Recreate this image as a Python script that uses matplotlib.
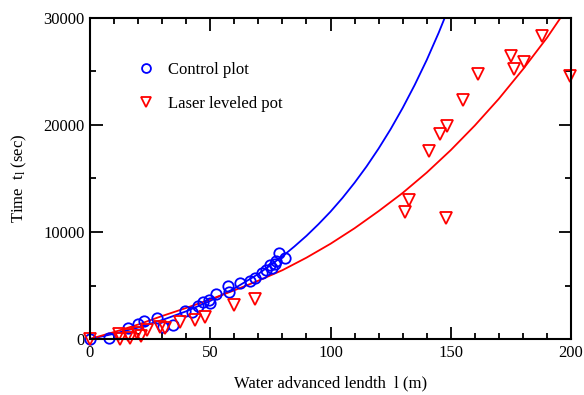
import matplotlib
matplotlib.use("Agg")
import matplotlib.pyplot as plt
import numpy as np

plt.rcParams['font.family'] = ['Liberation Serif', 'DejaVu Serif']
plt.rcParams['mathtext.fontset'] = 'custom'
plt.rcParams['mathtext.rm'] = 'Liberation Serif'
plt.rcParams['mathtext.it'] = 'Liberation Serif:italic'

# Control plot (blue circles)
control_l = [0, 8, 16, 20, 22.5, 28, 30.5, 34.5, 39.5, 42.5, 45, 47, 49.5, 50,
             52.5, 57.5, 58, 62.5, 66.5, 68.5, 71.5, 73, 75, 75.5, 77, 77.5, 78.5, 81]
control_t = [0, 100, 1000, 1400, 1700, 1950, 1150, 1300, 2630, 2520, 3120, 3420, 3620, 3340,
             4230, 4970, 4420, 5280, 5420, 5670, 6140, 6450, 6900, 6600, 6980, 7320, 8010, 7540]

# Laser leveled plot (red triangles)
laser_l = [0, 12, 12.5, 16, 16.5, 19.5, 21, 23.5, 29, 31, 37.5, 43.5, 48, 60, 68.5,
           131, 132.5, 148, 141, 145.5, 148.5, 155, 161.5, 175, 176.5, 180.5, 188, 199.5]
laser_t = [0, 450, 0, 400, 100, 600, 300, 840, 1150, 1000, 1580, 1780, 2060, 3220, 3770,
           11840, 12990, 11280, 17570, 19130, 19940, 22340, 24740, 26480, 25230, 25920, 28350, 24610]

# fitted curves
fit_control_l = [0, 10, 20, 30, 40, 50, 60, 70, 80, 85, 90, 95, 100, 105, 110, 115,
                 120, 125, 130, 135, 140, 145, 150]
fit_control_t = [0, 490, 1080, 1770, 2590, 3560, 4720, 6080, 7720, 8650, 9640, 10730,
                 11900, 13190, 14600, 16130, 17800, 19610, 21590, 23740, 26070, 28630, 31410]
fit_laser_l = [0, 10, 20, 30, 40, 50, 60, 70, 80, 90, 100, 110, 120, 130, 140, 150,
               160, 170, 180, 190, 200]
fit_laser_t = [0, 650, 1350, 2150, 2900, 3700, 4550, 5450, 6430, 7600, 8900, 10350,
               11950, 13650, 15550, 17650, 19950, 22450, 25200, 28150, 31450]

fig = plt.figure(figsize=(5.84, 3.95), dpi=100)
ax = fig.add_axes([90/584, 1-339/395, 481/584, 321/395])

ax.plot(fit_control_l, fit_control_t, color='blue', lw=1.3)
ax.plot(fit_laser_l, fit_laser_t, color='red', lw=1.3)
ax.plot(control_l, control_t, 'o', mfc='none', mec='blue', mew=1.3, ms=7.5,
        clip_on=False, label='Control plot')
ax.plot(laser_l, laser_t, 'v', mfc='none', mec='red', mew=1.3, ms=9,
        clip_on=False, label='Laser leveled pot')

ax.set_xlim(0, 200)
ax.set_ylim(0, 30000)
ax.set_xticks(np.arange(0, 201, 50))
ax.set_xticks(np.arange(0, 201, 10), minor=True)
ax.set_yticks(np.arange(0, 30001, 10000))
ax.set_yticks(np.arange(0, 30001, 5000), minor=True)
ax.tick_params(which='both', direction='in', top=True, right=True,
               labelsize=12, width=1.3)
ax.tick_params(which='major', length=9, pad=4)
ax.tick_params(which='minor', length=4.5)
for s in ax.spines.values():
    s.set_linewidth(1.5)

ax.set_xlabel('Water advanced lendth  l (m)', fontsize=12, labelpad=11)
ax.set_ylabel('Time  t$_{\\mathrm{l}}$ (sec)', fontsize=12, labelpad=10)

ax.legend(loc='upper left', bbox_to_anchor=(0.099, 0.862), frameon=False,
          fontsize=12, borderpad=0, borderaxespad=0, handlelength=1.0,
          handletextpad=0.8, labelspacing=1.05, markerscale=0.85)

fig.savefig('out.png', dpi=100)
